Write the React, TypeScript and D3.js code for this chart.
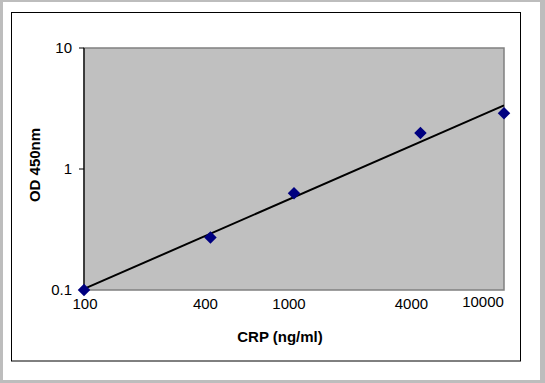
import React from "react";
import * as d3 from "d3";

const concentrations = [100, 400, 1000, 4000, 10000];
const odValues = [0.1, 0.272, 0.63, 1.98, 2.89];
const xTickValues = [100, 400, 1000, 4000, 10000];
const yTickValues = [0.1, 1, 10];

// label nudges (style only)
const xLabelDx = [1, -5, -5, -9, -21];
const xLabelDy = [0, 0, 0, 0, -2];

const W = 545;
const H = 383;
const plot = { left: 84, right: 504, top: 48, bottom: 290 };

export default function App() {
  const x = d3.scaleLog().domain([100, 10000]).range([plot.left, plot.right]);
  const y = d3.scaleLog().domain([0.1, 10]).range([plot.bottom, plot.top]);

  // power-law trendline: least squares in log-log space
  const lx = concentrations.map((v) => Math.log10(v));
  const ly = odValues.map((v) => Math.log10(v));
  const mx = d3.mean(lx)!;
  const my = d3.mean(ly)!;
  let sxy = 0, sxx = 0;
  lx.forEach((v, i) => { sxy += (v - mx) * (ly[i] - my); sxx += (v - mx) ** 2; });
  const slope = sxy / sxx;
  const icpt = my - slope * mx;
  const fit = (c: number) => Math.pow(10, icpt + slope * Math.log10(c));
  const x0 = 100, x1 = 10000;
  const line = d3.line<number>().x((c) => x(c)).y((c) => y(fit(c)));
  const diamond = d3.symbol().type(d3.symbolDiamond2).size(100)();

  return (
    <div style={{ position: "absolute", left: 0, top: 0 }}>
      <svg width={W} height={H} style={{ display: "block", fontFamily: "'Liberation Sans', Arial, sans-serif" }}>
        <rect x={0} y={0} width={W} height={H} fill="#bdbdbd" />
        <rect x={3} y={2} width={537} height={378} fill="#ffffff" />
        <rect x={11.5} y={12.5} width={509} height={348.5} fill="none" stroke="#000" strokeWidth={1} />
        <rect x={plot.left} y={plot.top} width={plot.right - plot.left} height={plot.bottom - plot.top} fill="#c0c0c0" stroke="#808080" strokeWidth={1.5} />
        <line x1={plot.left} x2={plot.left} y1={plot.top} y2={plot.bottom} stroke="#000" strokeWidth={1.2} />
        {yTickValues.map((t) => (
          <g key={t}>
            <line x1={plot.left - 5} x2={plot.left} y1={y(t)} y2={y(t)} stroke="#000" strokeWidth={1} />
            <text x={plot.left - 12} y={y(t)} dy="0.35em" textAnchor="end" fontSize={15} fill="#000">{String(t)}</text>
          </g>
        ))}
        {xTickValues.map((t, i) => (
          <text key={t} x={x(t) + xLabelDx[i]} y={plot.bottom + 19 + xLabelDy[i]} textAnchor="middle" fontSize={15} fill="#000">{String(t)}</text>
        ))}
        <path d={line([x0, x1]) || ""} stroke="#000" strokeWidth={2} fill="none" />
        {concentrations.map((c, i) => (
          <path key={c} d={diamond || ""} transform={`translate(${x(c)},${y(odValues[i])})`} fill="#000080" />
        ))}
        <text x={280} y={342} textAnchor="middle" fontSize={15} fontWeight="bold" fill="#000">CRP (ng/ml)</text>
        <text transform={`translate(40,165) rotate(-90)`} textAnchor="middle" fontSize={15} fontWeight="bold" fill="#000">OD 450nm</text>
      </svg>
    </div>
  );
}
